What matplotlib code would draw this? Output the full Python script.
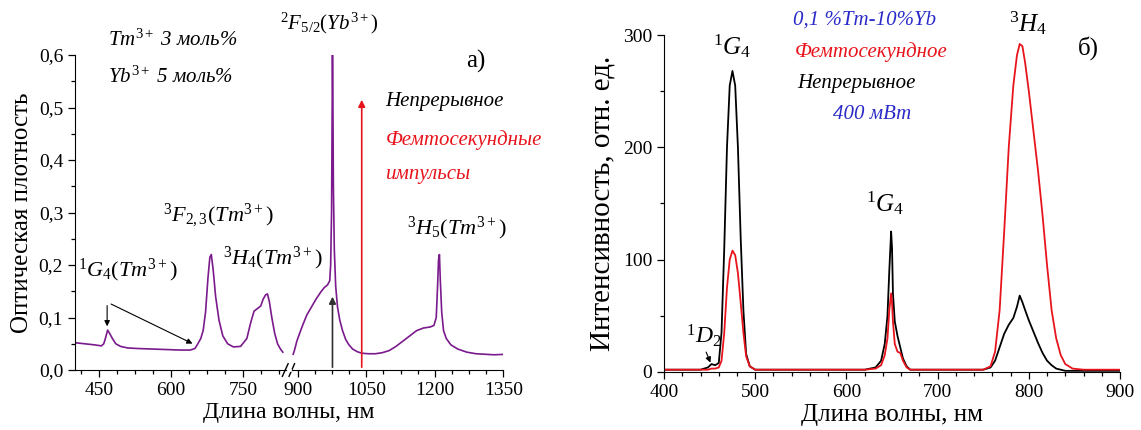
import matplotlib
matplotlib.use("Agg")
import matplotlib.pyplot as plt
import numpy as np
from matplotlib.ticker import FixedLocator

plt.rcParams["font.family"] = ["Liberation Serif", "DejaVu Serif"]
plt.rcParams["mathtext.fontset"] = "custom"
plt.rcParams["mathtext.rm"] = "Liberation Serif"
plt.rcParams["mathtext.it"] = "Liberation Serif:italic"
plt.rcParams["mathtext.bf"] = "Liberation Serif:bold"

# Absorption spectrum (a), part before the axis break
abs_wl_1 = [400, 420, 440, 455, 460, 464, 468, 472, 478, 485, 495, 510, 530, 560, 590, 620, 640,
            650, 656, 662, 667, 672, 677, 681, 684, 688, 693, 700, 708, 718, 730, 745, 758,
            766, 773, 780, 787, 792, 797, 801, 805, 810, 816, 822, 828, 833]
abs_od_1 = [0.052, 0.050, 0.048, 0.046, 0.050, 0.062, 0.076, 0.070, 0.060, 0.050, 0.045, 0.042,
            0.041, 0.040, 0.039, 0.038, 0.038, 0.041, 0.050, 0.060, 0.075, 0.110, 0.175, 0.215,
            0.220, 0.190, 0.140, 0.095, 0.065, 0.050, 0.044, 0.045, 0.060, 0.090, 0.112, 0.117,
            0.122, 0.135, 0.143, 0.145, 0.130, 0.100, 0.070, 0.050, 0.040, 0.034]
# part after the axis break
abs_wl_2 = [890, 893, 898, 905, 912, 920, 930, 940, 950, 958, 965, 970, 972, 974, 975, 976,
            977, 978, 980, 983, 987, 992, 998, 1005, 1012, 1020, 1030, 1040, 1055, 1070, 1085,
            1100, 1115, 1130, 1145, 1160, 1175, 1190, 1198, 1203, 1206, 1208, 1210, 1212, 1215,
            1219, 1225, 1235, 1250, 1270, 1290, 1310, 1330, 1355]
abs_od_2 = [0.030, 0.038, 0.055, 0.072, 0.088, 0.105, 0.120, 0.135, 0.148, 0.157, 0.162, 0.170,
            0.200, 0.300, 0.450, 0.600, 0.500, 0.350, 0.230, 0.160, 0.120, 0.095, 0.075, 0.058,
            0.048, 0.040, 0.035, 0.032, 0.031, 0.031, 0.033, 0.037, 0.045, 0.055, 0.065, 0.075,
            0.080, 0.082, 0.085, 0.100, 0.160, 0.210, 0.220, 0.170, 0.110, 0.075, 0.060, 0.048,
            0.040, 0.034, 0.031, 0.030, 0.029, 0.030]

# Upconversion spectra (б)
lum_wl = [400, 440, 448, 452, 456, 460, 463, 466, 469, 472, 475, 478, 481, 484, 487, 490, 494,
          500, 560, 620, 632, 638, 642, 645, 647, 649, 650, 651, 653, 656, 659, 662, 666, 670,
          700, 750, 758, 763, 768, 773, 778, 783, 787, 790, 793, 796, 800, 805, 810, 815, 820,
          825, 830, 835, 840, 848, 860, 900]
lum_cw = [2, 2, 4, 7, 6, 8, 35, 110, 200, 255, 268, 255, 200, 120, 55, 16, 5, 2, 2, 2, 4, 10,
          25, 50, 90, 125, 110, 70, 45, 32, 22, 12, 5, 2, 2, 2, 4, 10, 22, 34, 42, 48, 58, 68,
          62, 55, 46, 36, 26, 17, 10, 6, 3, 2, 1, 1, 1, 1]
lum_fs = [2, 2, 2, 3, 3, 4, 10, 35, 75, 100, 108, 104, 88, 62, 35, 14, 5, 2, 2, 2, 3, 6, 15,
          30, 55, 70, 62, 45, 25, 18, 17, 10, 4, 2, 2, 2, 5, 18, 55, 125, 200, 255, 282, 292,
          290, 275, 250, 215, 180, 140, 95, 55, 30, 15, 7, 3, 2, 2]

# piecewise x scale for the broken axis of panel (a)
brk_lo, brk_hi, k_r = 845.0, 880.0, 0.952
xs = np.array([-1e4, brk_lo, brk_hi, 1e4])
us = np.array([-1e4, brk_lo, brk_lo + 0.01, brk_lo + 0.01 + (1e4 - brk_hi) * k_r])


def fwd(x):
    return np.interp(x, xs, us)


def inv(u):
    return np.interp(u, us, xs)


purple = "#7a1a8c"
red = "#e8141c"
blue = "#2b2bc8"

fig = plt.figure(figsize=(11.41, 4.30), dpi=100)
ax1 = fig.add_axes([0.0657, 0.1395, 0.3755, 0.7325])
ax2 = fig.add_axes([0.582, 0.135, 0.3996, 0.7836])

for ax in (ax1, ax2):
    ax.spines["top"].set_visible(False)
    ax.spines["right"].set_visible(False)
    ax.tick_params(which="both", direction="out", labelsize=14, width=0.9)
    ax.tick_params(which="major", length=5)
    ax.tick_params(which="minor", length=3)

# ---- panel (a)
ax1.set_xscale("function", functions=(fwd, inv))
ax1.plot(abs_wl_1, abs_od_1, color=purple, lw=1.2)
ax1.plot(abs_wl_2, abs_od_2, color=purple, lw=1.2)
ax1.set_xlim(400, 1350)
ax1.set_ylim(0, 0.6)
ax1.xaxis.set_major_locator(FixedLocator([450, 600, 750, 900, 1050, 1200, 1350]))
ax1.xaxis.set_minor_locator(FixedLocator([412.5, 487.5, 525, 562.5, 637.5, 675, 712.5, 787.5,
                                          825, 937.5, 975, 1012.5, 1087.5, 1125, 1162.5,
                                          1237.5, 1275, 1312.5]))
ax1.set_yticks(np.arange(0, 0.61, 0.1))
ax1.set_yticks(np.arange(0.05, 0.6, 0.1), minor=True)
ax1.set_yticklabels(["0,0", "0,1", "0,2", "0,3", "0,4", "0,5", "0,6"])
ax1.set_xticklabels(["450", "600", "750", "900", "1050", "1200", "1350"])
ax1.set_xlabel("Длина волны, нм", fontsize=17, labelpad=2)
ax1.set_ylabel("Оптическая плотность", fontsize=18, labelpad=4)

# break marks
for xb in (838, 887):
    ax1.plot([xb - 6, xb + 6], [-0.012, 0.012], color="black", lw=1, clip_on=False)
ax1.plot([843, 883], [0, 0], color="white", lw=2, clip_on=False, zorder=3)

# laser arrows
ax1.annotate("", xy=(976, 0.145), xytext=(976, 0.0),
             arrowprops=dict(arrowstyle="-|>", color="#303030", lw=1.2, mutation_scale=10))
ax1.annotate("", xy=(1040, 0.52), xytext=(1040, 0.0),
             arrowprops=dict(arrowstyle="-|>", color=red, lw=1.2, mutation_scale=10))
ax1.annotate("", xy=(467, 0.078), xytext=(467, 0.128),
             arrowprops=dict(arrowstyle="-|>", color="black", lw=0.8, mutation_scale=8))
ax1.annotate("", xy=(650, 0.048), xytext=(470, 0.128),
             arrowprops=dict(arrowstyle="-|>", color="black", lw=0.8, mutation_scale=8))

it = dict(style="italic", fontsize=15, va="center")
ax1.text(469, 0.628, r"$Tm^{3+}$ 3 моль%", ha="left", **it)
ax1.text(469, 0.558, r"$Yb^{3+}$ 5 моль%", ha="left", **it)
ax1.text(968, 0.66, r"$^{2}F_{5/2}(Yb^{3+})$", ha="center", fontsize=15, va="center")
ax1.text(1290, 0.587, "а)", ha="center", va="center", fontsize=18)
ax1.text(1092, 0.512, "Непрерывное", ha="left", **it)
ax1.text(1092, 0.438, "Фемтосекундные", ha="left", color=red, **it)
ax1.text(1092, 0.372, "импульсы", ha="left", color=red, **it)
ax1.text(584, 0.293, r"$^{3}F_{2,3}(Tm^{3+})$", ha="left", fontsize=16, va="center")
ax1.text(708, 0.213, r"$^{3}H_{4}(Tm^{3+})$", ha="left", fontsize=16, va="center")
ax1.text(406, 0.19, r"$^{1}G_{4}(Tm^{3+})$", ha="left", fontsize=16, va="center")
ax1.text(1140, 0.27, r"$^{3}H_{5}(Tm^{3+})$", ha="left", fontsize=16, va="center")

# ---- panel (б)
ax2.plot(lum_wl, lum_cw, color="black", lw=1.3)
ax2.plot(lum_wl, lum_fs, color=red, lw=1.3)
ax2.set_xlim(400, 900)
ax2.set_ylim(0, 300)
ax2.set_xticks([400, 500, 600, 700, 800, 900])
ax2.set_xticks(np.arange(420, 900, 20), minor=True)
ax2.set_yticks([0, 100, 200, 300])
ax2.set_yticks([50, 150, 250], minor=True)
ax2.set_xlabel("Длина волны, нм", fontsize=18, labelpad=2)
ax2.set_ylabel("Интенсивность, отн. ед.", fontsize=21, labelpad=5)

ax2.text(475, 290, r"$^{1}G_{4}$", ha="center", va="center", fontsize=18)
ax2.text(642, 150, r"$^{1}G_{4}$", ha="center", va="center", fontsize=18)
ax2.text(799, 311, r"$^{3}H_{4}$", ha="center", va="center", fontsize=18)
ax2.text(443, 32, r"$^{1}D_{2}$", ha="center", va="center", fontsize=17)
ax2.annotate("", xy=(452, 6), xytext=(445, 20),
             arrowprops=dict(arrowstyle="-|>", color="black", lw=0.8, mutation_scale=8))
ax2.text(541, 313, "0,1 %Tm-10%Yb", ha="left", color=blue, **it)
ax2.text(543, 285, "Фемтосекундное", ha="left", color=red, **it)
ax2.text(546, 257, "Непрерывное", ha="left", **it)
ax2.text(585, 229, "400 мВт", ha="left", color=blue, **it)
ax2.text(865, 288, "б)", ha="center", va="center", fontsize=18)

fig.savefig("out.png", dpi=100)
